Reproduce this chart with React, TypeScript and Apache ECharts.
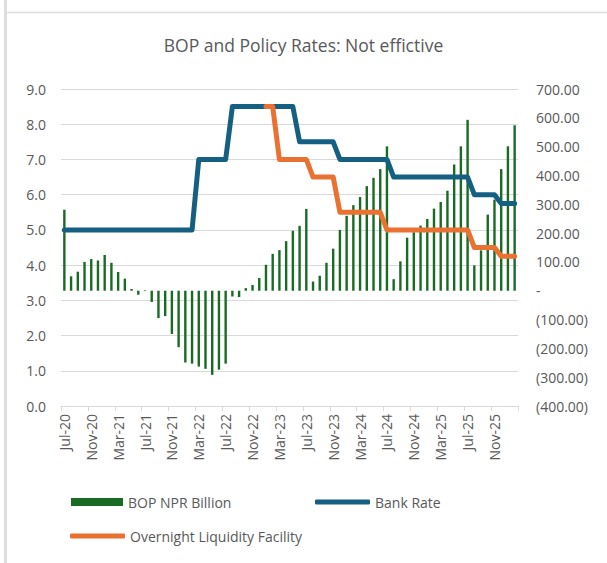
import React, { useEffect, useRef } from "react";
import * as echarts from "echarts";

// Monthly observations, Jul-20 through Feb-26
const months: string[] = [
  "Jul-20", "Aug-20", "Sep-20", "Oct-20", "Nov-20", "Dec-20",
  "Jan-21", "Feb-21", "Mar-21", "Apr-21", "May-21", "Jun-21",
  "Jul-21", "Aug-21", "Sep-21", "Oct-21", "Nov-21", "Dec-21",
  "Jan-22", "Feb-22", "Mar-22", "Apr-22", "May-22", "Jun-22",
  "Jul-22", "Aug-22", "Sep-22", "Oct-22", "Nov-22", "Dec-22",
  "Jan-23", "Feb-23", "Mar-23", "Apr-23", "May-23", "Jun-23",
  "Jul-23", "Aug-23", "Sep-23", "Oct-23", "Nov-23", "Dec-23",
  "Jan-24", "Feb-24", "Mar-24", "Apr-24", "May-24", "Jun-24",
  "Jul-24", "Aug-24", "Sep-24", "Oct-24", "Nov-24", "Dec-24",
  "Jan-25", "Feb-25", "Mar-25", "Apr-25", "May-25", "Jun-25",
  "Jul-25", "Aug-25", "Sep-25", "Oct-25", "Nov-25", "Dec-25",
  "Jan-26", "Feb-26",
];

// Balance of payments, NPR billion (fiscal-year cumulative)
const bopNprBillion: number[] = [
  281, 50, 66, 100, 110, 105,
  124, 97, 65, 42, 6, -14,
  2, -39, -95, -88, -150, -196,
  -249, -253, -263, -271, -292, -274,
  -253, -20, -22, 9, 20, 44,
  90, 128, 141, 172, 208, 225,
  284, 32, 52, 97, 146, 211,
  260, 297, 325, 363, 392, 422,
  501, 40, 102, 184, 203, 226,
  249, 285, 308, 347, 438, 501,
  593, 88, 140, 264, 316, 422,
  501, 574,
];

// Bank rate, percent
const bankRate: number[] = [
  5.0, 5.0, 5.0, 5.0, 5.0, 5.0,
  5.0, 5.0, 5.0, 5.0, 5.0, 5.0,
  5.0, 5.0, 5.0, 5.0, 5.0, 5.0,
  5.0, 5.0, 7.0, 7.0, 7.0, 7.0,
  7.0, 8.5, 8.5, 8.5, 8.5, 8.5,
  8.5, 8.5, 8.5, 8.5, 8.5, 7.5,
  7.5, 7.5, 7.5, 7.5, 7.5, 7.0,
  7.0, 7.0, 7.0, 7.0, 7.0, 7.0,
  7.0, 6.5, 6.5, 6.5, 6.5, 6.5,
  6.5, 6.5, 6.5, 6.5, 6.5, 6.5,
  6.5, 6.0, 6.0, 6.0, 6.0, 5.75,
  5.75, 5.75,
];

// Overnight liquidity facility rate, percent (introduced Jan-23)
const overnightLiquidityFacility: (number | null)[] = [
  null, null, null, null, null, null,
  null, null, null, null, null, null,
  null, null, null, null, null, null,
  null, null, null, null, null, null,
  null, null, null, null, null, null,
  8.5, 8.5, 7.0, 7.0, 7.0, 7.0,
  7.0, 6.5, 6.5, 6.5, 6.5, 5.5,
  5.5, 5.5, 5.5, 5.5, 5.5, 5.5,
  5.0, 5.0, 5.0, 5.0, 5.0, 5.0,
  5.0, 5.0, 5.0, 5.0, 5.0, 5.0,
  5.0, 4.5, 4.5, 4.5, 4.5, 4.25,
  4.25, 4.25,
];

const FONT = "'Open Sans', 'Liberation Sans', sans-serif";
const TEXT = "#595959";
const GRID = "#d9d9d9";
const GREEN = "#196B24";
const BLUE = "#156082";
const ORANGE = "#E97132";

function formatRight(v: number): string {
  if (v === 0) return "-";
  if (v < 0) return `(${Math.abs(v).toFixed(2)})`;
  return v.toFixed(2);
}

export default function App() {
  const ref = useRef<HTMLDivElement>(null);

  useEffect(() => {
    if (!ref.current) return;
    const chart = echarts.init(ref.current, null, { renderer: "svg" });

    const legendText = { color: TEXT, fontFamily: FONT, fontSize: 14 };

    chart.setOption({
      animation: false,
      backgroundColor: "#ffffff",
      textStyle: { fontFamily: FONT },
      title: {
        text: "BOP and Policy Rates: Not effictive",
        left: "center",
        top: 31,
        textStyle: { color: TEXT, fontFamily: FONT, fontSize: 17.5, fontWeight: "normal" },
      },
      graphic: [
        { type: "rect", shape: { x: 4, y: 0, width: 3, height: 563 }, style: { fill: "#dedede" }, silent: true },
        { type: "line", shape: { x1: 7, y1: 12.5, x2: 607, y2: 12.5 }, style: { stroke: "#dedede", lineWidth: 1.5 }, silent: true },
      ],
      legend: [
        {
          data: [{ name: "BOP NPR Billion", icon: "rect" }],
          left: 71, top: 495, itemWidth: 52, itemHeight: 8, padding: 0,
          textStyle: legendText,
        },
        {
          data: [{ name: "Bank Rate", icon: "roundRect" }],
          left: 315, top: 495, itemWidth: 55, itemHeight: 5, padding: 0,
          textStyle: legendText,
        },
        {
          data: [{ name: "Overnight Liquidity Facility", icon: "roundRect" }],
          left: 70, top: 529, itemWidth: 55, itemHeight: 5, padding: 0,
          textStyle: legendText,
        },
      ],
      grid: { left: 61, right: 89, top: 89, bottom: 157, containLabel: false },
      xAxis: {
        type: "category",
        data: months,
        boundaryGap: true,
        axisLine: { lineStyle: { color: GRID, width: 1 } },
        axisTick: { show: true, interval: 3, length: 5, lineStyle: { color: GRID } },
        axisLabel: {
          interval: 3,
          rotate: 90,
          margin: 8,
          color: TEXT,
          fontFamily: FONT,
          fontSize: 14,
        },
        splitLine: { show: false },
      },
      yAxis: [
        {
          type: "value",
          min: 0,
          max: 9,
          interval: 1,
          axisLine: { show: false },
          axisTick: { show: false },
          axisLabel: {
            color: TEXT,
            fontFamily: FONT,
            fontSize: 14,
            margin: 15,
            formatter: (v: number) => v.toFixed(1),
          },
          splitLine: { lineStyle: { color: GRID, width: 1 } },
        },
        {
          type: "value",
          min: -400,
          max: 700,
          interval: 100,
          position: "right",
          axisLine: { show: false },
          axisTick: { show: false },
          axisLabel: {
            color: TEXT,
            fontFamily: FONT,
            fontSize: 14,
            margin: 18,
            formatter: formatRight,
          },
          splitLine: { show: false },
        },
      ],
      series: [
        {
          name: "BOP NPR Billion",
          type: "bar",
          yAxisIndex: 1,
          data: bopNprBillion,
          barWidth: 2.4,
          itemStyle: { color: GREEN },
          z: 1,
        },
        {
          name: "Bank Rate",
          type: "line",
          yAxisIndex: 0,
          data: bankRate,
          showSymbol: false,
          symbol: "none",
          color: BLUE,
          lineStyle: { color: BLUE, width: 5, cap: "round", join: "round" },
          itemStyle: { color: BLUE },
          z: 3,
        },
        {
          name: "Overnight Liquidity Facility",
          type: "line",
          yAxisIndex: 0,
          data: overnightLiquidityFacility,
          showSymbol: false,
          symbol: "none",
          connectNulls: false,
          color: ORANGE,
          lineStyle: { color: ORANGE, width: 5, cap: "round", join: "round" },
          itemStyle: { color: ORANGE },
          z: 4,
        },
      ],
    });

    return () => chart.dispose();
  }, []);

  return (
    <div
      ref={ref}
      style={{ position: "fixed", left: 0, top: 0, width: 607, height: 563, background: "#ffffff" }}
    />
  );
}
